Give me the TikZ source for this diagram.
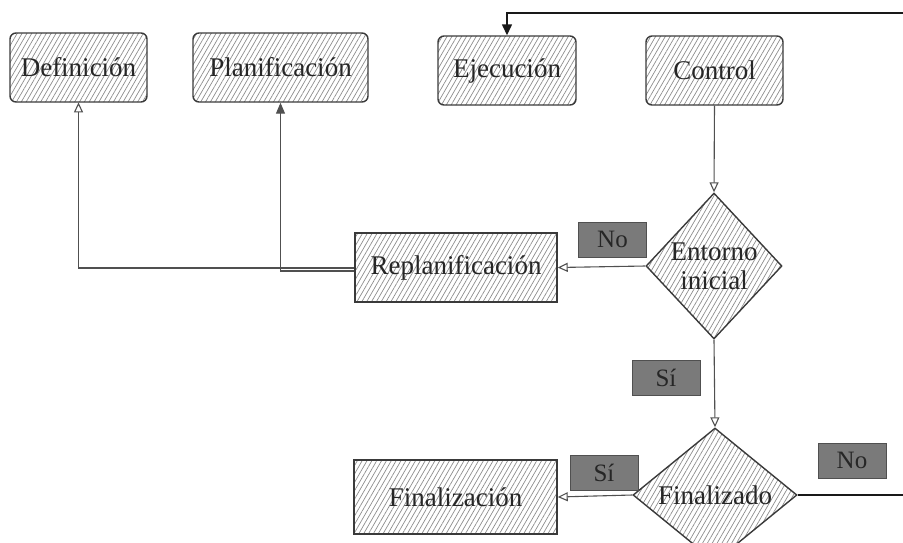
\documentclass[tikz,border=0pt]{standalone}
\usepackage{fontspec}
\setmainfont{Liberation Serif}
\usetikzlibrary{arrows.meta,patterns.meta,shapes.geometric}

\definecolor{edgeink}{HTML}{3A3A3A}
\definecolor{textink}{HTML}{262626}
\definecolor{hatchink}{HTML}{8C8C8C}
\definecolor{tagfill}{HTML}{7A7A7A}
\definecolor{lineink}{HTML}{505050}

\tikzset{
  hatched/.style={draw=edgeink, line width=1.4pt,
    pattern={Lines[angle=60,distance=4.2pt,line width=0.7pt]}, pattern color=hatchink},
  phase/.style={hatched, rounded corners=6pt, inner sep=0pt,
    font=\fontsize{27}{30}\selectfont, text=textink},
  task/.style={hatched, inner sep=0pt,
    font=\fontsize{27}{30}\selectfont, text=textink},
  decision/.style={hatched, diamond, inner sep=0pt},
  decisiontext/.style={font=\fontsize{27}{31}\selectfont, text=textink, align=center},
  tag/.style={draw=lineink, fill=tagfill, line width=0.8pt, inner sep=0pt,
    minimum width=68pt, minimum height=35pt,
    font=\fontsize{25}{28}\selectfont, text=textink},
  flow/.style={draw=lineink, line width=1.1pt,
    -{Triangle[open,length=10pt,width=9pt]}},
  flowsolid/.style={draw=lineink, line width=1.1pt,
    -{Triangle[length=11pt,width=9pt]}},
  loopback/.style={draw=black!90, line width=1.4pt,
    -{Triangle[length=11pt,width=10pt]}},
}

\begin{document}
\begin{tikzpicture}[x=1pt,y=-1pt]
\useasboundingbox (0,0) rectangle (903,542);

% project phases
\node[phase, minimum width=137pt, minimum height=69pt] (def) at (78.5,67.5) {Definición};
\node[phase, minimum width=175pt, minimum height=69pt] (plan) at (280.5,67.5) {Planificación};
\node[phase, minimum width=138pt, minimum height=69pt] (ejec) at (507,70.5) {Ejecución};
\node[phase, minimum width=137pt, minimum height=69pt] (ctrl) at (714.5,70.5) {Control};

% decisions
\node[decision, minimum width=136pt, minimum height=146pt] (ent) at (714,266) {};
\node[decisiontext] (entt) at (ent.center) {Entorno\\[-2pt]inicial};
\node[decision, minimum width=164pt, minimum height=134pt] (fin) at (715,495) {};
\node[decisiontext] (fint) at (fin.center) {Finalizado};

% outcomes
\node[task, minimum width=202pt, minimum height=69pt] (replan) at (456,267.5) {Replanificación};
\node[task, minimum width=203pt, minimum height=74pt] (final) at (455.5,497) {Finalización};

% branch tags
\node[tag] (tno1) at (612.5,239.5) {No};
\node[tag] (tsi1) at (666,378) {Sí};
\node[tag] (tsi2) at (604,473) {Sí};
\node[tag] (tno2) at (852,460.5) {No};

% connectors
\coordinate (loopR) at (940,495);
\coordinate (loopT) at (940,13);
\draw[flow] (ctrl.south) -- (ent.north);
\draw[flow] (ent.west) -- (replan.east);
\draw[flow] (ent.south) -- (fin.north);
\draw[flow] (fin.west) -- (final.east);
\draw[flow] (replan.west |- 0,268) -| (def.south);
\draw[flowsolid] (replan.west |- 0,271) -| (plan.south);
\draw[loopback] (fin.east) -- (loopR) -- (loopT) -| (ejec.north);
\end{tikzpicture}
\end{document}
